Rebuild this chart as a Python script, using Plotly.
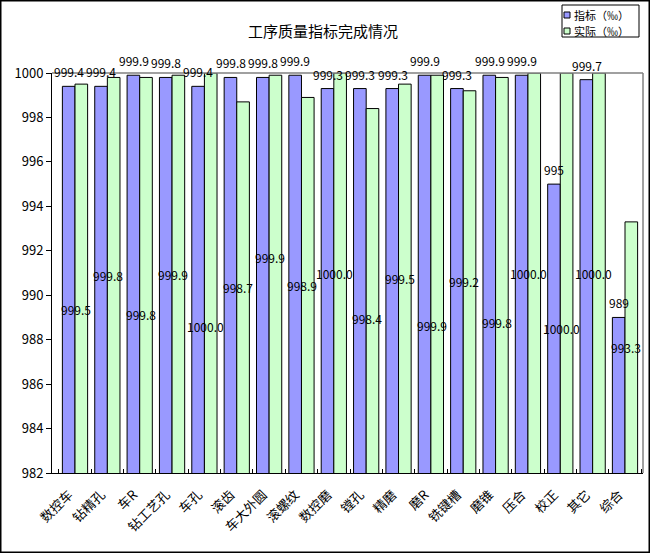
import plotly.graph_objects as go

categories = ["数控车", "钻精孔", "车R", "钻工艺孔", "车孔", "滚齿", "车大外圆", "滚螺纹", "数控磨",
              "镗孔", "精磨", "磨R", "铣键槽", "磨锥", "压合", "校正", "其它", "综合"]
target = [999.4, 999.4, 999.9, 999.8, 999.4, 999.8, 999.8, 999.9, 999.3,
          999.3, 999.3, 999.9, 999.3, 999.9, 999.9, 995, 999.7, 989]
actual = [999.5, 999.8, 999.8, 999.9, 1000.0, 998.7, 999.9, 998.9, 1000.0,
          998.4, 999.5, 999.9, 999.2, 999.8, 1000.0, 1000.0, 1000.0, 993.3]
target_text = ["999.4", "999.4", "999.9", "999.8", "999.4", "999.8", "999.8", "999.9", "999.3",
               "999.3", "999.3", "999.9", "999.3", "999.9", "999.9", "995", "999.7", "989"]
actual_text = ["999.5", "999.8", "999.8", "999.9", "1000.0", "998.7", "999.9", "998.9", "1000.0",
               "998.4", "999.5", "999.9", "999.2", "999.8", "1000.0", "1000.0", "1000.0", "993.3"]
series_names = ["指标（‰）", "实际（‰）"]
y_min, y_max = 982, 1000
y_ticks = [982, 984, 986, 988, 990, 992, 994, 996, 998, 1000]

# style: vertical pixel offsets of the "actual" labels (downwards)
actual_label_drop = [31, 0, 39, 0, 53, 0, -17, 0, 0, 28, 0, 51, 0, 47, 0, 55, 0, 0]

FONT = "Noto Sans CJK SC"
BLUE = "#9999FF"
GREEN = "#CCFFCC"
L, R, T, B = 52, 643, 73, 473


def px(xp):
    return (xp - L) / (R - L)


def py(yp):
    return (B - yp) / (B - T)


fig = go.Figure()
fig.add_trace(go.Bar(name=series_names[0], x=categories, y=target,
                     marker=dict(color=BLUE, line=dict(color="black", width=1))))
fig.add_trace(go.Bar(name=series_names[1], x=categories, y=actual,
                     marker=dict(color=GREEN, line=dict(color="black", width=1))))

annotations = []
for c, v, t in zip(categories, target, target_text):
    annotations.append(dict(x=c, y=v, xref="x", yref="y", text=t, showarrow=False,
                            yanchor="bottom", xanchor="center", xshift=-6, yshift=4,
                            font=dict(family=FONT, size=12, color="black")))
for c, v, t, d in zip(categories, actual, actual_text, actual_label_drop):
    annotations.append(dict(x=c, y=(y_min + v) / 2, xref="x", yref="y", text=t, showarrow=False,
                            yanchor="middle", xanchor="center", xshift=1, yshift=-d,
                            font=dict(family=FONT, size=12, color="black")))
annotations.append(dict(text="工序质量指标完成情况", xref="paper", yref="paper",
                        x=px(323), y=py(30), showarrow=False,
                        xanchor="center", yanchor="middle",
                        font=dict(family=FONT, size=15, color="black")))

# hand-drawn legend (compact, like the original)
shapes = [
    dict(type="rect", xref="paper", yref="paper",
         x0=px(0.75), x1=px(649.25), y0=py(552.25), y1=py(0.75),
         line=dict(color="black", width=1.5), layer="below"),
    dict(type="line", xref="paper", yref="paper", x0=0, x1=1, y0=1, y1=1,
         line=dict(color="#808080", width=1.5)),
    dict(type="line", xref="paper", yref="paper", x0=1, x1=1, y0=0, y1=1,
         line=dict(color="#808080", width=1.5)),
    dict(type="rect", xref="paper", yref="paper",
         x0=px(562), x1=px(639), y0=py(37), y1=py(5),
         line=dict(color="black", width=1), fillcolor="white"),
]
for i, (name, col) in enumerate(zip(series_names, [BLUE, GREEN])):
    yc = 15 + i * 16
    shapes.append(dict(type="rect", xref="paper", yref="paper",
                       x0=px(564), x1=px(570), y0=py(yc + 3), y1=py(yc - 3),
                       line=dict(color="black", width=1), fillcolor=col))
    annotations.append(dict(text=name, xref="paper", yref="paper", x=px(572), y=py(yc),
                            xanchor="left", yanchor="middle", showarrow=False,
                            font=dict(family=FONT, size=11, color="black")))

fig.update_layout(
    width=650, height=553,
    margin=dict(l=L, r=650 - R, t=T, b=553 - B),
    paper_bgcolor="white", plot_bgcolor="white",
    barmode="group", bargap=0.22, bargroupgap=0,
    font=dict(family=FONT, size=12, color="black"),
    showlegend=False,
    annotations=annotations,
    shapes=shapes,
)
fig.update_xaxes(type="category", showline=True, linecolor="black", linewidth=1,
                 ticks="inside", tickson="boundaries", ticklen=4, tickcolor="black",
                 tickangle=-45, tickfont=dict(family=FONT, size=13, color="black"),
                 ticklabelstandoff=8, ticklabelshift=-6,
                 showgrid=False, zeroline=False)
fig.update_yaxes(range=[y_min, y_max], tickvals=y_ticks, showline=True, linecolor="black", linewidth=1,
                 ticks="outside", ticklen=5, tickcolor="black",
                 tickfont=dict(family=FONT, size=13, color="black"),
                 showgrid=False, zeroline=False)

fig.write_html("out.html", config={"displayModeBar": False},
               post_script="document.body.style.margin='0';document.body.style.padding='0';")
